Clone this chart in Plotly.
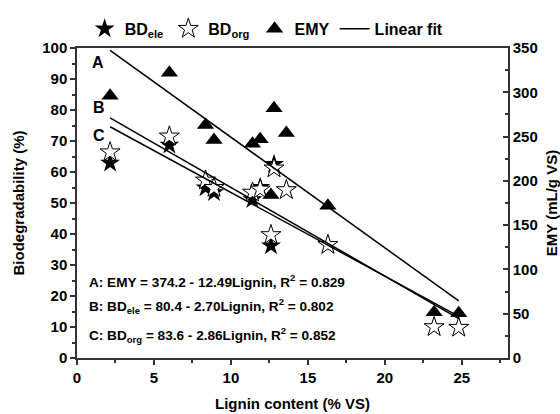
import plotly.graph_objects as go
import numpy as np

# ---- data ----
lignin = [2.15, 6.0, 8.35, 8.9, 11.4, 11.9, 12.6, 12.8, 13.6, 16.3, 23.2, 24.8]
bd_ele = [62.9, 68.7, 54.9, 53.4, 51.1, 55.1, 36.2, 62.5, 54.2, 36.5, 10.0, 9.8]
bd_org = [66.4, 71.5, 57.3, 54.9, 53.4, 54.4, 39.7, 61.2, 54.2, 36.5, 10.0, 9.8]
emy = [296, 322, 263, 246, 242, 247, 184, 282, 254, 172, 51.6, 50.5]

fit_names = ["A", "B", "C"]
fit_intercepts = [374.2, 80.4, 83.6]
fit_slopes = [-12.49, -2.70, -2.86]
fit_x = [2.15, 24.8]

eq_texts = [
    "A: EMY = 374.2 - 12.49Lignin, R<sup>2</sup> = 0.829",
    "B: BD<sub>ele</sub> = 80.4 - 2.70Lignin, R<sup>2</sup> = 0.802",
    "C: BD<sub>org</sub> = 83.6 - 2.86Lignin, R<sup>2</sup> = 0.852",
]

FONT = "Liberation Sans, Arial, sans-serif"
AX = "#333333"

fig = go.Figure()

fig.add_trace(go.Scatter(
    x=lignin, y=bd_ele, mode="markers", name="BD<sub>ele</sub>",
    marker=dict(symbol="star", size=15, color="black", line=dict(width=0)),
))
fig.add_trace(go.Scatter(
    x=lignin, y=bd_org, mode="markers", name="BD<sub>org</sub>",
    marker=dict(symbol="star", size=15, color="white", line=dict(width=1, color="black")),
))
fig.add_trace(go.Scatter(
    x=lignin, y=emy, mode="markers", name="EMY", yaxis="y2",
    marker=dict(symbol="triangle-up", size=15, color="black", line=dict(width=0)),
))

# linear fits
xs = np.array(fit_x)
for i, (nm, a, b) in enumerate(zip(fit_names, fit_intercepts, fit_slopes)):
    fig.add_trace(go.Scatter(
        x=xs, y=a + b * xs, mode="lines", name="Linear fit",
        yaxis="y2" if nm == "A" else "y",
        line=dict(color="black", width=1.5),
        legendgroup="fit", showlegend=(i == 0),
    ))

# letter labels
for txt, xx, yy in [("A", 1.37, 95.3), ("B", 1.43, 80.7), ("C", 1.43, 71.7)]:
    fig.add_annotation(x=xx, y=yy, text=txt, showarrow=False,
                       font=dict(family=FONT, size=16, color="black", weight="bold"))

for txt, yy in zip(eq_texts, [25.0, 16.8, 7.4]):
    fig.add_annotation(x=0.66, y=yy, text=txt, showarrow=False, xanchor="left", yanchor="middle",
                       font=dict(family=FONT, size=13.6, color="black", weight="bold"))

tickfont = dict(family=FONT, size=15, color="black", weight="bold")
titlefont = dict(family=FONT, size=15, color="black", weight="bold")

fig.update_layout(
    width=560, height=414,
    margin=dict(l=77, r=52, t=37, b=56),
    paper_bgcolor="white", plot_bgcolor="white",
    font=dict(family=FONT, color="black"),
    showlegend=True,
    legend=dict(orientation="h", x=0.44, xanchor="center", y=1.062, yanchor="middle",
                font=dict(family=FONT, size=16, color="black", weight="bold"),
                bgcolor="rgba(0,0,0,0)", itemwidth=30, tracegroupgap=0),
    xaxis=dict(range=[0, 28], dtick=5, tick0=0, ticks="outside", ticklen=5, tickwidth=1.5,
               tickcolor=AX, showline=True, linecolor=AX, linewidth=1.5, mirror=True,
               showgrid=False, zeroline=False, tickfont=tickfont, automargin=False,
               minor=dict(dtick=2.5, ticks="outside", ticklen=3, tickcolor=AX, tickwidth=1.5),
               title=dict(text="Lignin content (% VS)", font=titlefont, standoff=14)),
    yaxis=dict(range=[0, 100], dtick=10, ticks="outside", ticklen=5, tickwidth=1.5,
               tickcolor=AX, showline=True, linecolor=AX, linewidth=1.5, automargin=False,
               showgrid=False, zeroline=False, tickfont=tickfont,
               minor=dict(dtick=5, ticks="outside", ticklen=3, tickcolor=AX, tickwidth=1.5),
               title=dict(text="Biodegradability (%)", font=titlefont, standoff=14)),
    yaxis2=dict(range=[0, 350], dtick=50, overlaying="y", side="right", ticks="inside",
                ticklen=5, tickwidth=1.5, tickcolor=AX, showline=True, linecolor=AX,
                linewidth=1.5, showgrid=False, zeroline=False, tickfont=tickfont, automargin=False,
                minor=dict(dtick=25, ticks="inside", ticklen=3, tickcolor=AX, tickwidth=1.5),
                title=dict(text="EMY (mL/g VS)", font=titlefont, standoff=10)),
)

fig.write_html("out.html")
